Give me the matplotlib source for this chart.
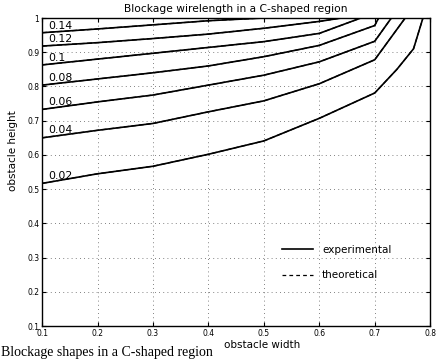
import numpy as np
import matplotlib.pyplot as plt

# contour levels and the (width, height) points of each contour line
levels = ['0.02', '0.04', '0.06', '0.08', '0.1', '0.12', '0.14']

w_002 = [0.1, 0.2, 0.3, 0.4, 0.5, 0.6, 0.7, 0.74, 0.77, 0.787]
h_002 = [0.517, 0.545, 0.567, 0.602, 0.641, 0.707, 0.781, 0.85, 0.91, 1.0]
w_004 = [0.1, 0.2, 0.3, 0.4, 0.5, 0.6, 0.7, 0.755]
h_004 = [0.650, 0.672, 0.692, 0.726, 0.758, 0.808, 0.878, 1.0]
w_006 = [0.1, 0.2, 0.3, 0.4, 0.5, 0.6, 0.7, 0.73]
h_006 = [0.733, 0.755, 0.775, 0.804, 0.833, 0.872, 0.932, 1.0]
w_008 = [0.1, 0.2, 0.3, 0.4, 0.5, 0.6, 0.7, 0.707]
h_008 = [0.804, 0.822, 0.840, 0.860, 0.887, 0.920, 0.978, 1.0]
w_010 = [0.1, 0.2, 0.3, 0.4, 0.5, 0.6, 0.675]
h_010 = [0.863, 0.880, 0.897, 0.914, 0.931, 0.955, 1.0]
w_012 = [0.1, 0.2, 0.3, 0.4, 0.5, 0.6, 0.64]
h_012 = [0.918, 0.928, 0.940, 0.953, 0.970, 0.990, 1.0]
w_014 = [0.1, 0.2, 0.3, 0.4, 0.5]
h_014 = [0.957, 0.968, 0.980, 0.992, 1.0]

widths = [w_002, w_004, w_006, w_008, w_010, w_012, w_014]
heights = [h_002, h_004, h_006, h_008, h_010, h_012, h_014]

x_ticks = [0.1, 0.2, 0.3, 0.4, 0.5, 0.6, 0.7, 0.8]
y_ticks = [0.1, 0.2, 0.3, 0.4, 0.5, 0.6, 0.7, 0.8, 0.9, 1.0]
y_tick_labels = ['0.1', '0.2', '0.3', '0.4', '0.5', '0.6', '0.7', '0.8', '0.9', '1']

fig = plt.figure(figsize=(4.43, 3.6), dpi=100)
ax = fig.add_axes([0.095, 0.094, 0.876, 0.856])

for w, h in zip(widths, heights):
    ax.plot(w, h, color='black', linewidth=1.2, linestyle='-')
    ax.plot(w, h, color='black', linewidth=0.9, linestyle=(0, (4, 2)))

# contour labels sitting on the lines near the left edge
for lev, w, h in zip(levels, widths, heights):
    yl = np.interp(0.115, w, h)
    ax.text(0.111, yl + 0.004, lev, fontsize=7.8, ha='left', va='bottom')

# legend drawn as a frameless legend inside the axes
ax.plot([], [], color='black', linewidth=1.2, linestyle='-', label='experimental')
ax.plot([], [], color='black', linewidth=0.9, linestyle=(0, (3, 2.5)), label='theoretical')
ax.legend(loc='upper left', bbox_to_anchor=(0.595, 0.295), frameon=False,
          fontsize=7.5, handlelength=2.9, handletextpad=0.9, labelspacing=1.5)

ax.set_xlim(0.1, 0.8)
ax.set_ylim(0.1, 1.0)
ax.set_xticks(x_ticks)
ax.set_xticklabels([str(t) for t in x_ticks])
ax.set_yticks(y_ticks)
ax.set_yticklabels(y_tick_labels)
ax.tick_params(direction='in', top=True, right=True, labelsize=5.5, length=3, width=0.8, pad=2)
ax.grid(True, color='0.35', linestyle=(0, (1, 4)), linewidth=0.6)
for s in ax.spines.values():
    s.set_linewidth(1.0)

ax.set_title('Blockage wirelength in a C-shaped region', fontsize=7.7, pad=4)
ax.set_xlabel('obstacle width', fontsize=7.5)
ax.xaxis.set_label_coords(0.567, -0.045)
ax.set_ylabel('obstacle height', fontsize=7.5)
ax.yaxis.set_label_coords(-0.062, 0.57)

# caption of the figure at the very bottom of the picture
fig.text(0.003, 1 - 346 / 360, 'Blockage shapes in a C-shaped region',
         fontsize=10, family='Liberation Serif', ha='left', va='top')

fig.savefig('out.png', dpi=100)
